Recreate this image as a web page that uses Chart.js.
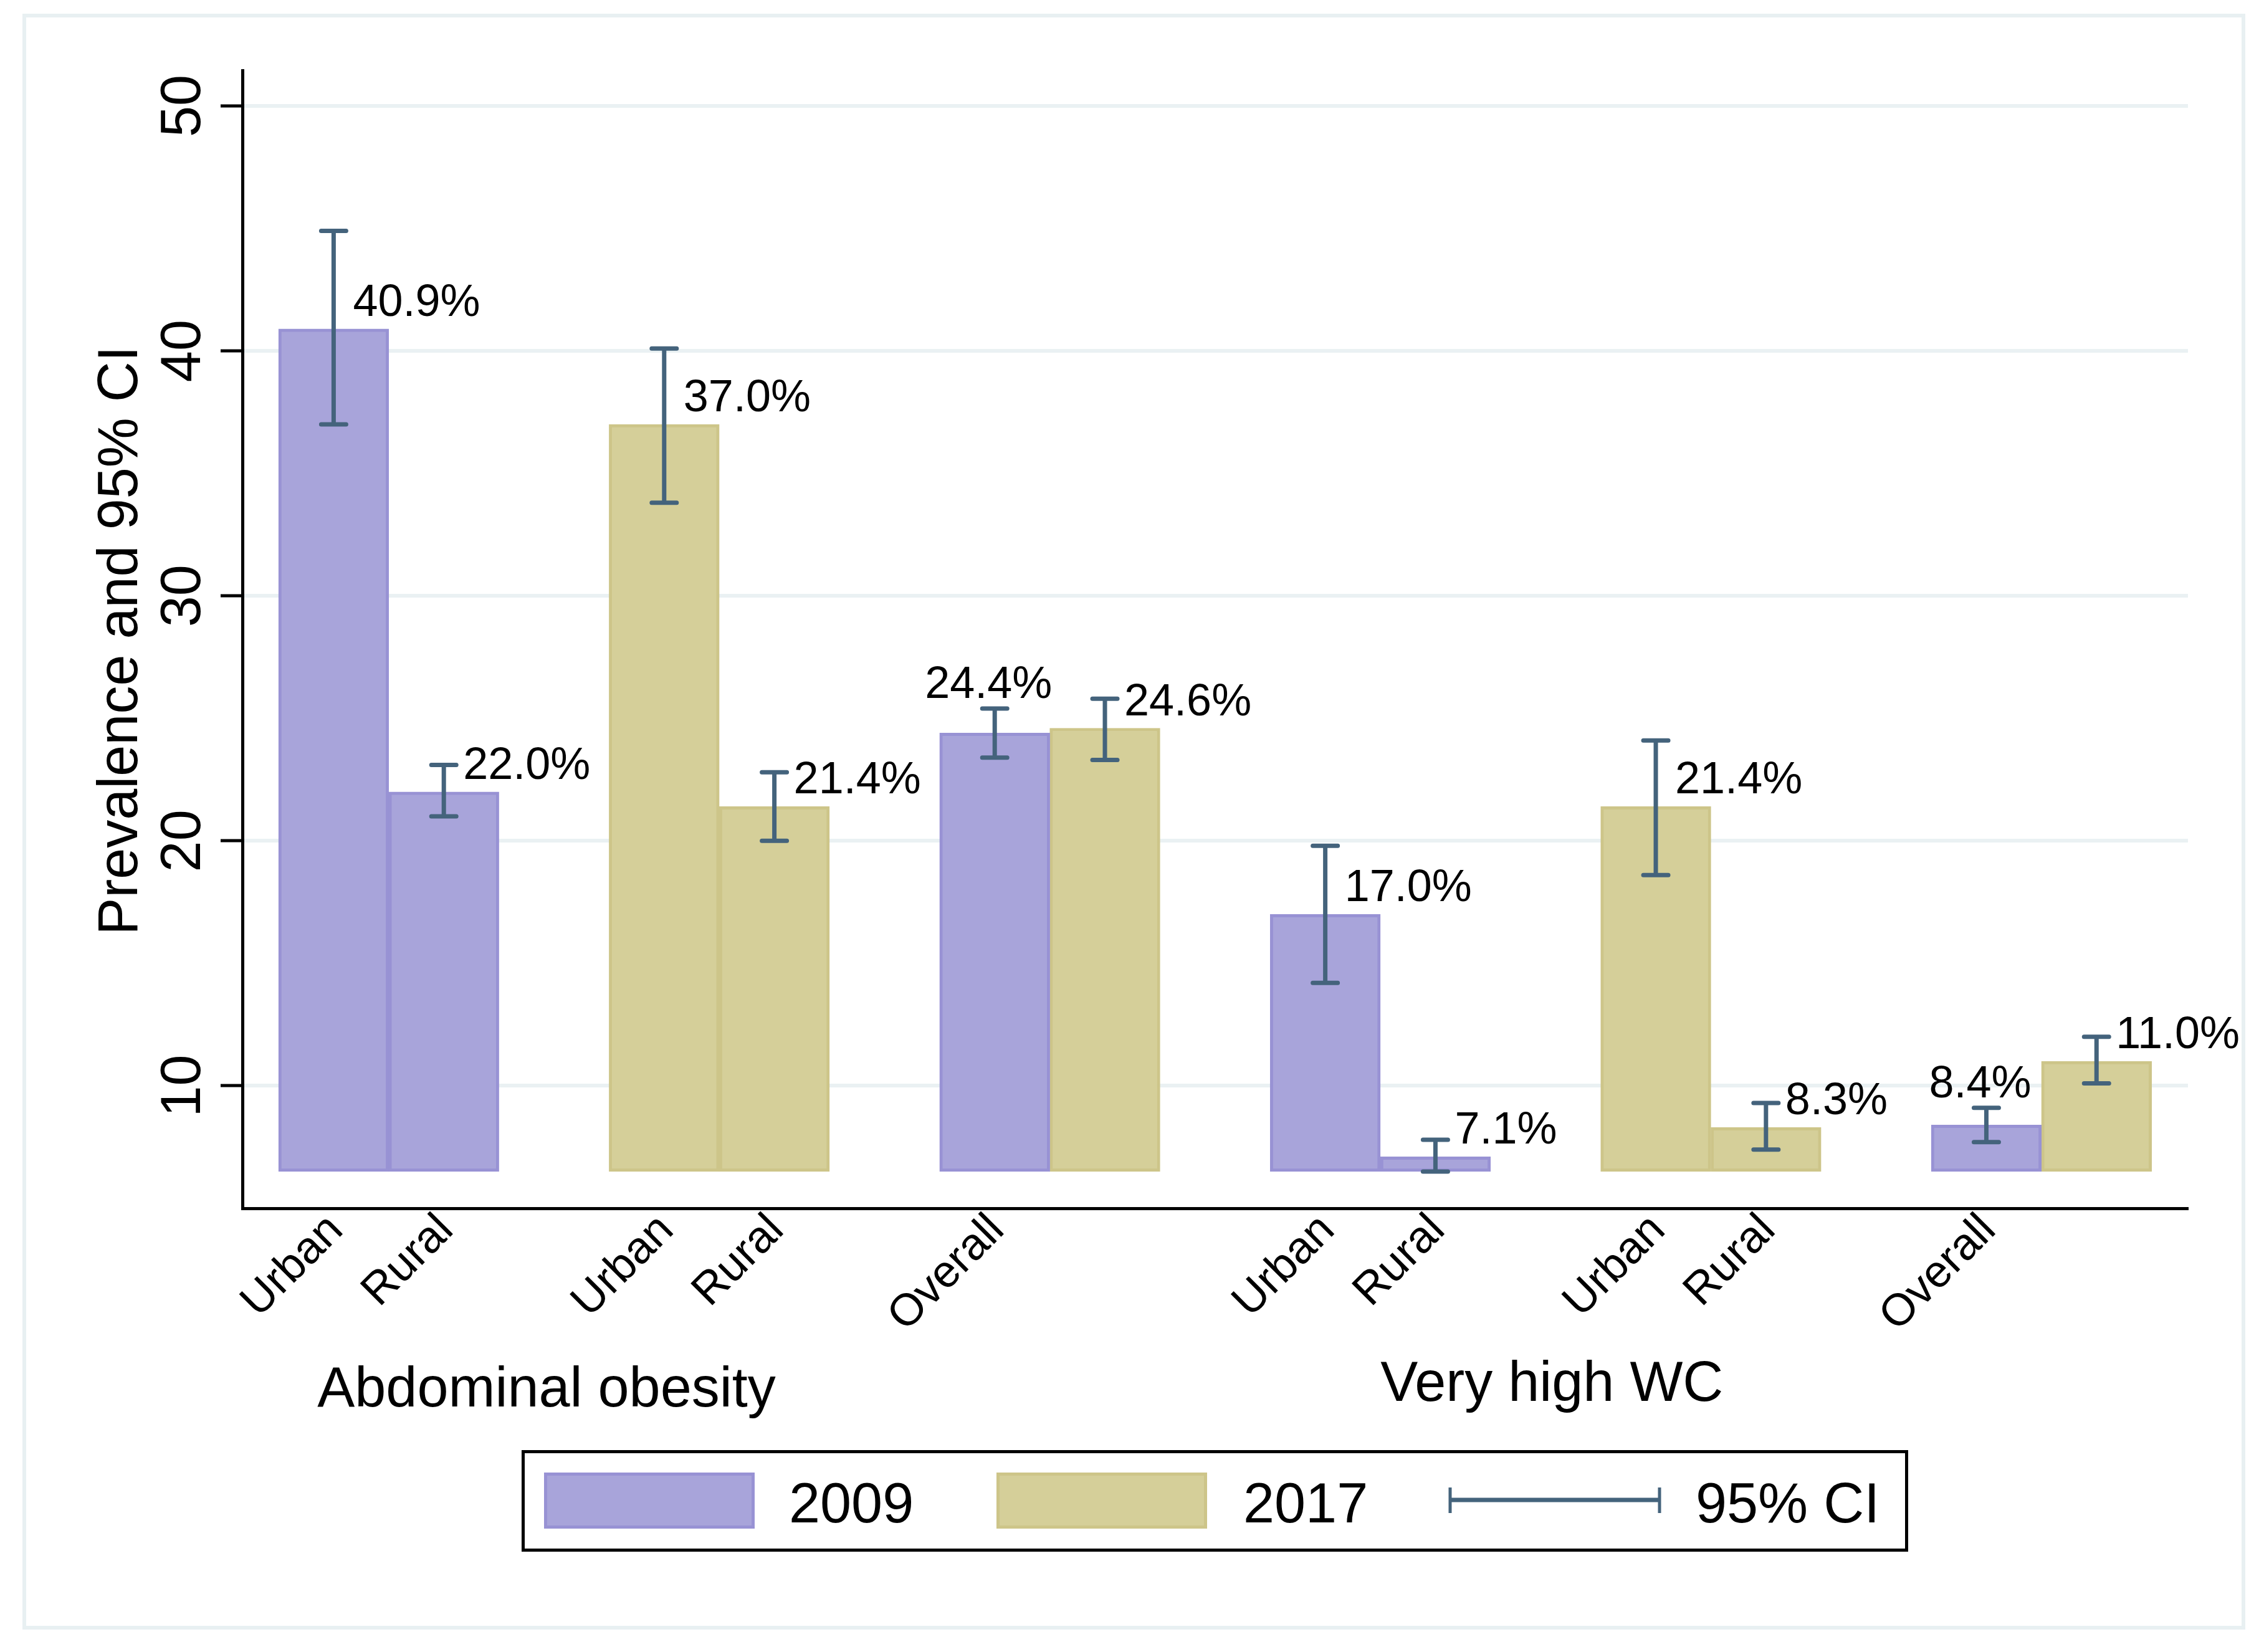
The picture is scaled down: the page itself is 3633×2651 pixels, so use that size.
<!DOCTYPE html>
<html>
<head>
<meta charset="utf-8">
<script src="https://cdn.jsdelivr.net/npm/chart.js@4.4.0/dist/chart.umd.min.js"></script>
<style>
html, body { margin:0; padding:0; background:#fff; }
#box { width:3633px; height:2651px; position:relative; }
</style>
</head>
<body>
<div id="box"><canvas id="grafico"></canvas></div>
<script>
let slots2009 = [0, 1, 6, 9, 10, 15];
let slots2017 = [3, 4, 7, 12, 13, 16];
let prev2009 = [40.9, 22.0, 24.4, 17.0, 7.1, 8.4];
let low2009  = [37.0, 21.0, 23.4, 14.2, 6.5, 7.7];
let high2009 = [44.9, 23.1, 25.4, 19.8, 7.8, 9.1];
let prev2017 = [37.0, 21.4, 24.6, 21.4, 8.3, 11.0];
let low2017  = [33.8, 20.0, 23.3, 18.6, 7.4, 10.1];
let high2017 = [40.1, 22.8, 25.8, 24.1, 9.3, 12.0];
let tickSlots = [0, 1, 3, 4, 6, 9, 10, 12, 13, 15];
let tickLabels = ["Urban", "Rural", "Urban", "Rural", "Overall", "Urban", "Rural", "Urban", "Rural", "Overall"];
let groupNames = ["Abdominal obesity", "Very high WC"];
let groupSlots = [[0, 4], [9, 13]];
let yTicks = [10, 20, 30, 40, 50];
let barBase = 6.5;

let fonte = "'Liberation Sans', Arial, sans-serif";
let ciColor = "#44637c";

function bars(slots, vals) {
    return slots.map(function(s, i) { return {x: s, y: [barBase, vals[i]]}; });
}

let extras = {
    id: "extras",
    afterDatasetsDraw: function(chart) {
        let ctx = chart.ctx;
        let xs = chart.scales.x, ys = chart.scales.y;
        let lista = [];
        slots2009.forEach(function(s, i) { lista.push({s: s, v: prev2009[i], lo: low2009[i], hi: high2009[i]}); });
        slots2017.forEach(function(s, i) { lista.push({s: s, v: prev2017[i], lo: low2017[i], hi: high2017[i]}); });
        let porSlot = {};
        lista.forEach(function(b) { porSlot[b.s] = b; });

        ctx.save();
        ctx.strokeStyle = ciColor;
        ctx.lineWidth = 7;
        ctx.lineCap = "round";
        lista.forEach(function(b) {
            let px = xs.getPixelForValue(b.s);
            let yl = ys.getPixelForValue(b.lo), yh = ys.getPixelForValue(b.hi);
            ctx.beginPath();
            ctx.moveTo(px, yl); ctx.lineTo(px, yh);
            ctx.moveTo(px - 20, yl); ctx.lineTo(px + 20, yl);
            ctx.moveTo(px - 20, yh); ctx.lineTo(px + 20, yh);
            ctx.stroke();
        });

        ctx.fillStyle = "#000";
        ctx.font = "72px " + fonte;
        ctx.textBaseline = "alphabetic";
        lista.forEach(function(b) {
            let px = xs.getPixelForValue(b.s);
            let txt = b.v.toFixed(1) + "%";
            let viz = porSlot[b.s + 1];
            if (viz && viz.v >= b.v) {
                ctx.textAlign = "center";
                ctx.fillText(txt, px - 10, ys.getPixelForValue(b.hi) - 17);
            } else {
                ctx.textAlign = "left";
                ctx.fillText(txt, px + 31, ys.getPixelForValue(b.v) - 21);
            }
        });
        ctx.restore();
    },
    afterDraw: function(chart) {
        let ctx = chart.ctx;
        let xs = chart.scales.x, ys = chart.scales.y;
        let area = chart.chartArea;
        ctx.save();

        // moldura externa
        ctx.strokeStyle = "#e8f0f2";
        ctx.lineWidth = 6;
        ctx.strokeRect(39, 25, 3561, 2587);

        // eixo y: rotulos e titulo
        ctx.fillStyle = "#000";
        ctx.font = "90px " + fonte;
        ctx.textAlign = "center";
        ctx.textBaseline = "alphabetic";
        yTicks.forEach(function(t) {
            ctx.save();
            ctx.translate(321, ys.getPixelForValue(t));
            ctx.rotate(-Math.PI / 2);
            ctx.fillText(String(t), 0, 0);
            ctx.restore();
        });
        ctx.save();
        ctx.translate(220, (area.top + area.bottom) / 2 + 2);
        ctx.rotate(-Math.PI / 2);
        ctx.fillText("Prevalence and 95% CI", 0, 0);
        ctx.restore();

        // rotulos do eixo x
        ctx.font = "72px " + fonte;
        ctx.textAlign = "right";
        ctx.textBaseline = "middle";
        tickSlots.forEach(function(s, i) {
            ctx.save();
            ctx.translate(xs.getPixelForValue(s) + 4, area.bottom + 24);
            ctx.rotate(-Math.PI / 4);
            ctx.fillText(tickLabels[i], 0, 0);
            ctx.restore();
        });

        // nomes dos grupos
        ctx.font = "90px " + fonte;
        ctx.textAlign = "center";
        ctx.textBaseline = "alphabetic";
        let baseGrupo = [2257, 2248];
        let ajusteGrupo = [-12, 10];
        groupNames.forEach(function(g, i) {
            let meio = (xs.getPixelForValue(groupSlots[i][0]) + xs.getPixelForValue(groupSlots[i][1])) / 2;
            ctx.fillText(g, meio + ajusteGrupo[i], baseGrupo[i]);
        });

        // legenda
        ctx.strokeStyle = "#000";
        ctx.lineWidth = 5;
        ctx.strokeRect(839.5, 2329.5, 2220, 158);
        let sw = [[873, chart.data.datasets[0]], [1599, chart.data.datasets[1]]];
        sw.forEach(function(p) {
            ctx.fillStyle = p[1].backgroundColor;
            ctx.fillRect(p[0], 2363, 338, 90);
            ctx.strokeStyle = p[1].borderColor;
            ctx.lineWidth = 5;
            ctx.strokeRect(p[0] + 2.5, 2365.5, 333, 85);
        });
        ctx.strokeStyle = ciColor;
        ctx.lineWidth = 7;
        ctx.lineCap = "butt";
        ctx.beginPath();
        ctx.moveTo(2325, 2407); ctx.lineTo(2665, 2407);
        ctx.stroke();
        ctx.lineWidth = 5;
        ctx.beginPath();
        ctx.moveTo(2327, 2387); ctx.lineTo(2327, 2428);
        ctx.moveTo(2663, 2387); ctx.lineTo(2663, 2428);
        ctx.stroke();
        ctx.fillStyle = "#000";
        ctx.textAlign = "left";
        ctx.fillText("2009", 1266, 2443);
        ctx.fillText("2017", 1995, 2443);
        ctx.fillText("95% CI", 2721, 2443);
        ctx.restore();
    }
};

let grafico = new Chart(document.getElementById("grafico"), {
    type: "bar",
    data: {
        datasets: [
            {label: "2009",
            data: bars(slots2009, prev2009),
            backgroundColor: "#a8a4da",
            borderColor: "#9892d4",
            borderWidth: 5,
            borderSkipped: false,
            grouped: false,
            barPercentage: 1,
            categoryPercentage: 1
            },
            {label: "2017",
            data: bars(slots2017, prev2017),
            backgroundColor: "#d5cf99",
            borderColor: "#cdc589",
            borderWidth: 5,
            borderSkipped: false,
            grouped: false,
            barPercentage: 1,
            categoryPercentage: 1
            }
        ]
    },
    options: {
        responsive: true,
        maintainAspectRatio: false,
        devicePixelRatio: 1,
        animation: false,
        layout: {padding: {left: 0, top: 113, right: 122, bottom: 0}},
        plugins: {legend: {display: false}, tooltip: {enabled: false}},
        scales: {
            x: {
                type: "linear",
                offset: false,
                min: -0.828,
                max: 16.83,
                afterBuildTicks: function(s) { s.ticks = tickSlots.map(function(v) { return {value: v}; }); },
                afterFit: function(s) { s.height = 712; },
                grid: {display: false},
                ticks: {display: false},
                border: {display: true, color: "#000", width: 5}
            },
            y: {
                min: 5,
                max: 51.45,
                afterBuildTicks: function(s) { s.ticks = yTicks.map(function(v) { return {value: v}; }); },
                afterFit: function(s) { s.width = 389; },
                grid: {color: "#eaf1f3", lineWidth: 6, drawTicks: true, tickLength: 35, tickWidth: 5, tickColor: "#000"},
                ticks: {display: false},
                border: {display: true, color: "#000", width: 5}
            }
        }
    },
    plugins: [extras]
});
</script>
</body>
</html>
